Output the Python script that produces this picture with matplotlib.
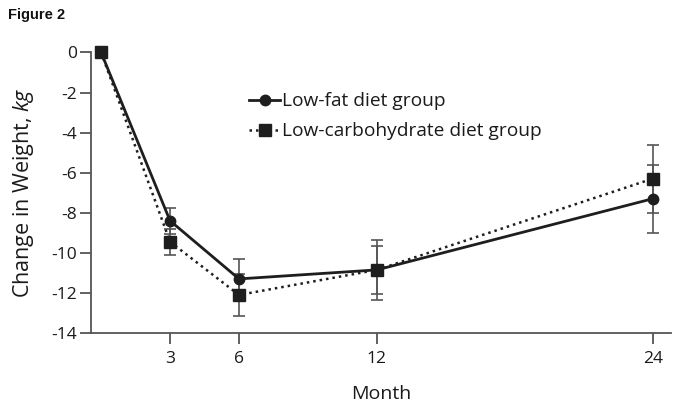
#!/usr/bin/env python3
"""Weight change over 24 months: low-fat vs low-carbohydrate diet groups."""

import matplotlib
matplotlib.use("Agg")
import matplotlib.pyplot as plt

months = [0, 3, 6, 12, 24]
low_fat = [0.0, -8.4, -11.3, -10.85, -7.3]
low_fat_err = [0.0, 0.65, 1.0, 1.5, 1.7]
low_carb = [0.0, -9.45, -12.1, -10.85, -6.3]
low_carb_err = [0.0, 0.65, 1.05, 1.2, 1.7]

x_ticks = [3, 6, 12, 24]
y_ticks = [0, -2, -4, -6, -8, -10, -12, -14]

plt.rcParams["font.family"] = ["Open Sans", "DejaVu Sans"]
plt.rcParams["axes.unicode_minus"] = False
plt.rcParams["mathtext.fontset"] = "custom"
plt.rcParams["mathtext.it"] = "Open Sans:italic"

AXIS_COLOR = "#555555"
LINE_COLOR = "#1e1e1e"
TEXT_COLOR = "#1a1a1a"


def main() -> None:
    fig = plt.figure(figsize=(7.0, 4.12), dpi=100)
    ax = fig.add_axes([0.13, 0.1917, 0.8286, 0.681])

    ax.errorbar(months[1:], low_fat[1:], yerr=low_fat_err[1:], fmt="none",
                ecolor=AXIS_COLOR, elinewidth=1.2, capsize=4.5, capthick=1.2, zorder=2)
    ax.errorbar(months[1:], low_carb[1:], yerr=low_carb_err[1:], fmt="none",
                ecolor=AXIS_COLOR, elinewidth=1.2, capsize=4.5, capthick=1.2, zorder=2)

    ax.plot(months, low_fat, color=LINE_COLOR, linestyle="-", linewidth=2,
            marker="o", markersize=7.5, label="Low-fat diet group",
            clip_on=False, zorder=4)
    ax.plot(months, low_carb, color=LINE_COLOR, linestyle=(0, (1, 1.6)), linewidth=1.8,
            marker="s", markersize=8, label="Low-carbohydrate diet group",
            clip_on=False, zorder=3)

    ax.set_xlim(-0.44, 24.8)
    ax.set_ylim(-14, 0)
    ax.set_xticks(x_ticks)
    ax.set_yticks(y_ticks)

    for side in ("top", "right"):
        ax.spines[side].set_visible(False)
    for side in ("left", "bottom"):
        ax.spines[side].set_color(AXIS_COLOR)
        ax.spines[side].set_linewidth(1.3)
    ax.tick_params(axis="both", colors=AXIS_COLOR, labelcolor=TEXT_COLOR,
                   labelsize=12.5, width=1.3, length=8, direction="out")
    ax.tick_params(axis="x", pad=5)
    ax.tick_params(axis="y", pad=2)

    ax.set_xlabel("Month", fontsize=14, color=TEXT_COLOR, labelpad=13)
    ax.set_ylabel("Change in Weight, $\\it{kg}$", fontsize=15.5, color=TEXT_COLOR, labelpad=11)

    leg = ax.legend(loc="upper left", bbox_to_anchor=(0.26, 0.885), frameon=False,
                    fontsize=13.8, handlelength=1.6, handletextpad=0.1, labelspacing=0.62,
                    borderaxespad=0)
    for text in leg.get_texts():
        text.set_color(TEXT_COLOR)

    fig.text(0.012, 0.955, "Figure 2", fontsize=10.5, fontweight="bold",
             family="Liberation Sans", color="#111111")

    fig.savefig("out.png", dpi=100)
    plt.close(fig)


if __name__ == "__main__":
    main()
